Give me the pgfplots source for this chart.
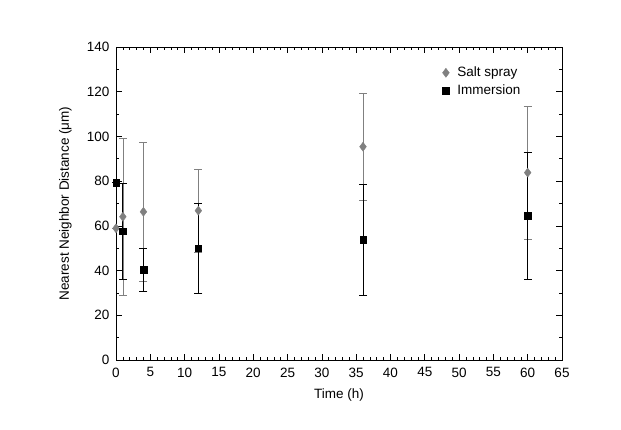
\documentclass[border=0pt]{standalone}
\usepackage{fontspec}
\setmainfont{Liberation Sans}
\usepackage{pgfplots}
\pgfplotsset{compat=1.18}
\definecolor{saltgray}{RGB}{128,128,128}

\begin{document}
\fontsize{13.5}{16}\selectfont
\begin{tikzpicture}
\begin{axis}[
    name=main,
    scale only axis,
    width=446pt, height=313pt,
    xmin=0, xmax=65, ymin=0, ymax=140,
    xtick distance=5, ytick distance=20,
    minor x tick num=4, minor y tick num=1,
    tick align=inside,
    major tick length=6pt, minor tick length=3pt,
    every tick/.style={black, line width=0.6pt},
    axis line style={line width=0.8pt},
    tick label style={font=\fontsize{13.5}{16}\selectfont},
    xticklabel style={yshift=-3pt},
    yticklabel style={xshift=-2pt},
    /pgf/number format/assume math mode=true,
    xlabel={Time (h)},
    ylabel={Nearest Neighbor Distance (μm)},
    label style={font=\fontsize{13.5}{16}\selectfont},
    xlabel style={yshift=-2pt},
    ylabel style={yshift=6pt},
    clip=false,
    legend style={draw=none, fill=none, at={(0.725,0.95)}, anchor=north west,
        font=\fontsize{13.5}{16}\selectfont, row sep=2pt},
    legend cell align=left,
]
\addplot+[only marks, mark=diamond*, mark size=4.5pt,
    mark options={fill=saltgray, draw=saltgray},
    error bars/.cd, y dir=both, y explicit,
    error bar style={saltgray, line width=0.7pt},
    error mark options={rotate=90, mark size=4pt, saltgray, line width=0.7pt}]
    coordinates {
    (0,58.9) +- (0,0)
    (1,64.1) +- (0,35)
    (4,66.3) +- (0,31)
    (12,66.8) +- (0,18.6)
    (36,95.4) +- (0,23.8)
    (60,83.8) +- (0,29.7)
    };
\addlegendentry{\hspace{6pt}Salt spray}
\addplot+[only marks, mark=square*, mark size=3.3pt,
    mark options={fill=black, draw=black},
    error bars/.cd, y dir=both, y explicit,
    error bar style={black, line width=0.8pt},
    error mark options={rotate=90, mark size=4pt, black, line width=0.8pt}]
    coordinates {
    (0,79.3) +- (0,0)
    (1,57.7) +- (0,21.5)
    (4,40.3) +- (0,9.8)
    (12,50.0) +- (0,20.1)
    (36,53.7) +- (0,24.9)
    (60,64.5) +- (0,28.3)
    };
\addlegendentry{\hspace{6pt}Immersion}
\end{axis}
\useasboundingbox ([shift={(-116pt,-69pt)}]main.south west) rectangle ([shift={(59pt,47pt)}]main.north east);
\end{tikzpicture}
\end{document}
